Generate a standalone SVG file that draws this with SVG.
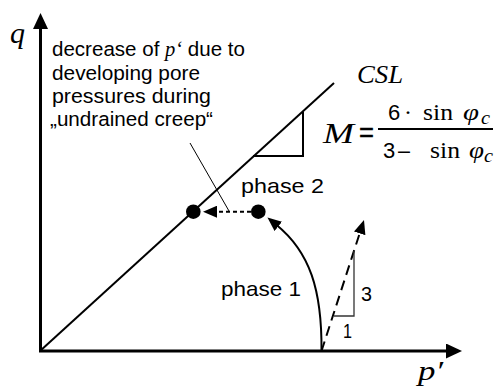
<svg xmlns="http://www.w3.org/2000/svg" width="497" height="389" viewBox="0 0 497 389">
<style>
.sans{font-family:"Liberation Sans",Arial,sans-serif;fill:#000}
.ser{font-family:"Liberation Serif","Times New Roman",serif;fill:#000}
.it{font-style:italic}
.ln{fill:none;stroke:#000;stroke-width:2}
.ax{fill:none;stroke:#000;stroke-width:3}
</style>
<defs>
<marker id="axh" markerUnits="userSpaceOnUse" markerWidth="16" markerHeight="15" refX="2" refY="7.5" orient="auto">
<path d="M0,0 L16,7.5 L0,15 z" fill="#000"/>
</marker>
<marker id="ah" markerUnits="userSpaceOnUse" markerWidth="14" markerHeight="12" refX="3" refY="6" orient="auto">
<path d="M0,0 L14,6 L0,12 z" fill="#000"/>
</marker>
</defs>
<rect width="497" height="389" fill="#fff"/>
<g id="axes">
<path class="ax" d="M40.5,352 L40.5,27" marker-end="url(#axh)"/>
<path class="ax" d="M39,351 L448,351" marker-end="url(#axh)"/>
<text class="ser it" x="10" y="43" font-size="30" textLength="15" lengthAdjust="spacingAndGlyphs">q</text>
<text class="ser it" x="418" y="380" font-size="28" textLength="25" lengthAdjust="spacingAndGlyphs">p′</text>
</g>
<g id="csl">
<path class="ln" d="M40,351 L334,83"/>
<polyline class="ln" points="303,112 303,156 253,156"/>
<text class="ser it" x="357" y="83" font-size="26" textLength="46" lengthAdjust="spacingAndGlyphs">CSL</text>
</g>
<g id="formula">
<text class="ser it" x="323" y="143" font-size="29" textLength="31" lengthAdjust="spacingAndGlyphs">M</text>
<text class="sans" x="359" y="142" font-size="27" textLength="15" lengthAdjust="spacingAndGlyphs" stroke="#000" stroke-width="0.4">=</text>
<line x1="378" y1="129" x2="493" y2="129" stroke="#000" stroke-width="2"/>
<text class="sans" x="388" y="120" font-size="22">6</text>
<text class="ser" x="404" y="120" font-size="24">·</text>
<text class="ser" x="423" y="120" font-size="23" textLength="30" lengthAdjust="spacingAndGlyphs">sin</text>
<text class="ser it" x="463" y="120" font-size="23" textLength="16" lengthAdjust="spacingAndGlyphs">φ</text>
<text class="ser it" x="481" y="124" font-size="18" textLength="9" lengthAdjust="spacingAndGlyphs">c</text>
<text class="sans" x="383" y="158" font-size="22">3</text>
<text class="sans" x="398" y="158" font-size="22" textLength="12" lengthAdjust="spacingAndGlyphs">–</text>
<text class="ser" x="430" y="158" font-size="23" textLength="30" lengthAdjust="spacingAndGlyphs">sin</text>
<text class="ser it" x="469" y="158" font-size="23" textLength="15" lengthAdjust="spacingAndGlyphs">φ</text>
<text class="ser it" x="484" y="162" font-size="18" textLength="9" lengthAdjust="spacingAndGlyphs">c</text>
</g>
<g id="note">
<text class="sans" x="52" y="56" font-size="20.5" textLength="193" lengthAdjust="spacingAndGlyphs">decrease of <tspan class="ser it">p‘</tspan> due to</text>
<text class="sans" x="52" y="79.5" font-size="20.5" textLength="148" lengthAdjust="spacingAndGlyphs">developing pore</text>
<text class="sans" x="52" y="103" font-size="20.5" textLength="159" lengthAdjust="spacingAndGlyphs">pressures during</text>
<text class="sans" x="50" y="126" font-size="20.5" textLength="163" lengthAdjust="spacingAndGlyphs">„undrained creep“</text>
</g>
<g id="point-end">
<circle cx="193.3" cy="211.7" r="7.3" fill="#000"/>
</g>
<g id="point-start">
<circle cx="258.3" cy="211.7" r="7.3" fill="#000"/>
</g>
<g id="labels">
<text class="sans" x="241" y="193" font-size="21" textLength="83" lengthAdjust="spacingAndGlyphs">phase 2</text>
<text class="sans" x="221" y="296" font-size="21" textLength="80" lengthAdjust="spacingAndGlyphs">phase 1</text>
<text class="sans" x="361" y="301" font-size="20" textLength="11" lengthAdjust="spacingAndGlyphs">3</text>
<text class="sans" x="343" y="338" font-size="20" textLength="9" lengthAdjust="spacingAndGlyphs">1</text>
</g>
<g id="connectors">
<line x1="190" y1="143" x2="229" y2="211" stroke="#000" stroke-width="1"/>
<path class="ln" d="M251,211.7 L214,211.7" stroke-dasharray="4,3" marker-end="url(#ah)"/>
<path class="ln" d="M321.5,351 C322,290 310,252 276,224.5" marker-end="url(#ah)"/>
<path class="ln" d="M321.5,351 L360.6,230.5" stroke-dasharray="10,6" marker-end="url(#ah)"/>
<polyline points="334,316 354,316 354,251" fill="none" stroke="#333" stroke-width="1.3"/>
</g>
</svg>
